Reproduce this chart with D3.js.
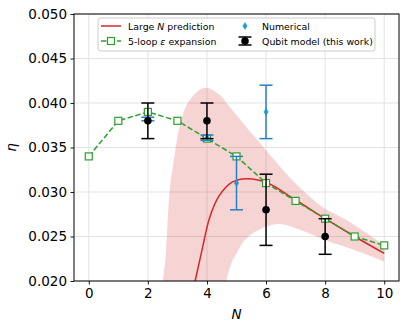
<!DOCTYPE html>
<html>
<head>
<meta charset="utf-8">
<script src="https://cdn.jsdelivr.net/npm/d3@7"></script>
<style>
  body { margin: 0; background: #fff; }
  svg { font-family: "DejaVu Sans", sans-serif; }
</style>
</head>
<body>
<script>
// 5-loop epsilon expansion
var loopN = [0, 1, 2, 3, 4, 5, 6, 7, 8, 9, 10];
var loopEta = [0.034, 0.038, 0.039, 0.038, 0.036, 0.034, 0.031, 0.029, 0.027, 0.025, 0.024];

// numerical results
var numN = [2, 4, 5, 6];
var numEta = [0.0382, 0.0361, 0.031, 0.039];
var numErr = [0.0002, 0.0003, 0.003, 0.003];

// qubit model
var qubitN = [2, 4, 6, 8];
var qubitEta = [0.038, 0.038, 0.028, 0.025];
var qubitErr = [0.002, 0.002, 0.004, 0.002];

// large N prediction
var largeN = [3.6, 3.7, 3.86, 4.09, 4.4, 4.85, 5.33, 6.0, 7.0, 8.0, 9.0, 10.0];
var largeEta = [0.0200, 0.0215, 0.0239, 0.0271, 0.0295, 0.0311, 0.0315, 0.0311, 0.0291, 0.0270, 0.0250, 0.0231];

// uncertainty band edges
var upperN = [2.51, 2.6, 2.74, 2.9, 3.1, 3.41, 3.92, 4.4, 4.76, 5.33, 6.0, 6.9, 7.92, 8.7, 10.0];
var upperEta = [0.020, 0.0227, 0.0302, 0.034, 0.0377, 0.0403, 0.0417, 0.0410, 0.0396, 0.0373, 0.0347, 0.0313, 0.0283, 0.0269, 0.0240];
var lowerN = [4.65, 4.85, 5.0, 5.3, 5.78, 6.45, 7.2, 8.0, 9.15, 10.0];
var lowerEta = [0.020, 0.0222, 0.0231, 0.0247, 0.0258, 0.0264, 0.0257, 0.0246, 0.0233, 0.0222];

var xTicks = [0, 2, 4, 6, 8, 10];
var yTicks = [0.020, 0.025, 0.030, 0.035, 0.040, 0.045, 0.050];

var width = 408,
    height = 330;
var margin = {top: 14, right: 9, bottom: 49, left: 74},
    graphWidth = width - margin.left - margin.right,
    graphHeight = height - margin.top - margin.bottom;

var red = "#d62728", green = "#2ca02c", blue = "#2a7fc0", blueMark = "#1e97d6";

var svg = d3.select("body").append("svg")
  .attr("width", width)
  .attr("height", height);

svg.append("defs").append("clipPath").attr("id", "clip")
  .append("rect").attr("width", graphWidth).attr("height", graphHeight);

var g = svg.append("g")
  .attr("transform", "translate(" + margin.left + "," + margin.top + ")");

var xScale = d3.scaleLinear().domain([-0.5, 10.5]).range([0, graphWidth]);
var yScale = d3.scaleLinear().domain([0.020, 0.050]).range([graphHeight, 0]);

// grid
g.append("g").selectAll("line").data(xTicks).enter().append("line")
  .attr("x1", function(d){ return xScale(d); })
  .attr("x2", function(d){ return xScale(d); })
  .attr("y1", 0).attr("y2", graphHeight)
  .attr("stroke", "#e3e3e3").attr("stroke-width", 1);
g.append("g").selectAll("line").data(yTicks).enter().append("line")
  .attr("y1", function(d){ return yScale(d); })
  .attr("y2", function(d){ return yScale(d); })
  .attr("x1", 0).attr("x2", graphWidth)
  .attr("stroke", "#e3e3e3").attr("stroke-width", 1);

var plot = g.append("g").attr("clip-path", "url(#clip)");

// band
var edge = d3.line()
  .x(function(d){ return xScale(d[0]); })
  .y(function(d){ return yScale(d[1]); })
  .curve(d3.curveCatmullRom.alpha(0.5));
var upper = upperN.map(function(n, i){ return [n, upperEta[i]]; });
var lower = lowerN.map(function(n, i){ return [n, lowerEta[i]]; }).reverse();
plot.append("path")
  .attr("d", edge(upper) + "L" + edge(lower).slice(1)
    + "L" + xScale(lowerN[0]) + "," + (graphHeight + 5)
    + "L" + xScale(upperN[0]) + "," + (graphHeight + 5) + "Z")
  .attr("fill", red).attr("fill-opacity", 0.2).attr("stroke", "none");

// large N line
plot.append("path")
  .attr("d", edge(largeN.map(function(n, i){ return [n, largeEta[i]]; })))
  .attr("fill", "none").attr("stroke", red).attr("stroke-width", 1.5);

// 5-loop
plot.append("path")
  .attr("d", d3.line()
    .x(function(d, i){ return xScale(d); })
    .y(function(d, i){ return yScale(loopEta[i]); })(loopN))
  .attr("fill", "none").attr("stroke", green).attr("stroke-width", 1.5)
  .attr("stroke-dasharray", "5.5,2.5");
plot.selectAll(".sq").data(loopN).enter().append("rect")
  .attr("class", "sq")
  .attr("x", function(d){ return xScale(d) - 3.5; })
  .attr("y", function(d, i){ return yScale(loopEta[i]) - 3.5; })
  .attr("width", 7).attr("height", 7)
  .attr("fill", "white").attr("stroke", green).attr("stroke-width", 1.2);

// error bars
function errorbars(ns, vals, errs, color, cls) {
  var eb = plot.append("g").selectAll("g").data(ns).enter().append("g").attr("class", cls);
  eb.append("line")
    .attr("x1", function(d){ return xScale(d); })
    .attr("x2", function(d){ return xScale(d); })
    .attr("y1", function(d, i){ return yScale(vals[i] - errs[i]); })
    .attr("y2", function(d, i){ return yScale(vals[i] + errs[i]); })
    .attr("stroke", color).attr("stroke-width", 1.5);
  [-1, 1].forEach(function(s){
    eb.append("line")
      .attr("x1", function(d){ return xScale(d) - 6.5; })
      .attr("x2", function(d){ return xScale(d) + 6.5; })
      .attr("y1", function(d, i){ return yScale(vals[i] + s * errs[i]); })
      .attr("y2", function(d, i){ return yScale(vals[i] + s * errs[i]); })
      .attr("stroke", color).attr("stroke-width", 1.5);
  });
  return eb;
}

var diamond = "M0,-3.4L2.1,0L0,3.4L-2.1,0Z";
errorbars(numN, numEta, numErr, blue, "num");
plot.selectAll(".dm").data(numN).enter().append("path")
  .attr("class", "dm")
  .attr("d", diamond)
  .attr("transform", function(d, i){ return "translate(" + xScale(d) + "," + yScale(numEta[i]) + ")"; })
  .attr("fill", blueMark).attr("stroke", blueMark).attr("stroke-width", 0.6);

errorbars(qubitN, qubitEta, qubitErr, "black", "qb");
plot.selectAll(".dot").data(qubitN).enter().append("circle")
  .attr("class", "dot")
  .attr("cx", function(d){ return xScale(d); })
  .attr("cy", function(d, i){ return yScale(qubitEta[i]); })
  .attr("r", 3.8).attr("fill", "black");

// axes
var xAxis = g.append("g")
  .attr("transform", "translate(0," + graphHeight + ")")
  .call(d3.axisBottom(xScale).tickValues(xTicks).tickSize(3.5).tickPadding(3.5).tickFormat(d3.format("d")));
var yAxis = g.append("g")
  .call(d3.axisLeft(yScale).tickValues(yTicks).tickSize(3.5).tickPadding(3.5).tickFormat(d3.format(".3f")));
[xAxis, yAxis].forEach(function(a){
  a.select(".domain").remove();
  a.selectAll("text").attr("font-size", "13.5px").attr("font-family", "DejaVu Sans").attr("fill", "black");
  a.selectAll("line").attr("stroke", "black").attr("stroke-width", 0.9);
});

g.append("rect")
  .attr("width", graphWidth).attr("height", graphHeight)
  .attr("fill", "none").attr("stroke", "black").attr("stroke-width", 1);

// axis titles
svg.append("text")
  .attr("x", margin.left + xScale(5)).attr("y", 319)
  .attr("text-anchor", "middle").attr("font-size", "13.5px").attr("font-style", "italic")
  .text("N");
svg.append("text")
  .attr("transform", "translate(16," + (margin.top + graphHeight / 2) + ") rotate(-90)")
  .attr("text-anchor", "middle").attr("font-size", "13.5px").attr("font-style", "italic")
  .text("η");

// legend
var leg = svg.append("g").attr("transform", "translate(98,18)");
leg.append("rect")
  .attr("width", 277).attr("height", 33).attr("rx", 2.5)
  .attr("fill", "white").attr("fill-opacity", 0.85)
  .attr("stroke", "#cccccc").attr("stroke-width", 1);

var fs = "9.4px";
leg.append("line").attr("x1", 3).attr("x2", 23).attr("y1", 8).attr("y2", 8)
  .attr("stroke", red).attr("stroke-width", 1.5);
var t1 = leg.append("text").attr("x", 30).attr("y", 11.5).attr("font-size", fs);
t1.append("tspan").text("Large ");
t1.append("tspan").attr("font-style", "italic").text("N");
t1.append("tspan").text(" prediction");

leg.append("line").attr("x1", 3).attr("x2", 23).attr("y1", 23).attr("y2", 23)
  .attr("stroke", green).attr("stroke-width", 1.5).attr("stroke-dasharray", "5.5,2.5");
leg.append("rect").attr("x", 9.5).attr("y", 19.5).attr("width", 7).attr("height", 7)
  .attr("fill", "white").attr("stroke", green).attr("stroke-width", 1.2);
var t2 = leg.append("text").attr("x", 30).attr("y", 26.5).attr("font-size", fs);
t2.append("tspan").text("5-loop ");
t2.append("tspan").attr("font-style", "italic").text("ε");
t2.append("tspan").text(" expansion");

leg.append("path").attr("d", diamond)
  .attr("transform", "translate(147,8)")
  .attr("fill", blueMark).attr("stroke", blueMark).attr("stroke-width", 0.6);
leg.append("text").attr("x", 164).attr("y", 11.5).attr("font-size", fs).text("Numerical");

[19, 27].forEach(function(y){
  leg.append("line").attr("x1", 140.5).attr("x2", 153.5).attr("y1", y).attr("y2", y)
    .attr("stroke", "black").attr("stroke-width", 1.5);
});
leg.append("line").attr("x1", 147).attr("x2", 147).attr("y1", 19).attr("y2", 27)
  .attr("stroke", "black").attr("stroke-width", 1.5);
leg.append("circle").attr("cx", 147).attr("cy", 23).attr("r", 3.8).attr("fill", "black");
leg.append("text").attr("x", 164).attr("y", 26.5).attr("font-size", fs).text("Qubit model (this work)");
</script>
</body>
</html>
